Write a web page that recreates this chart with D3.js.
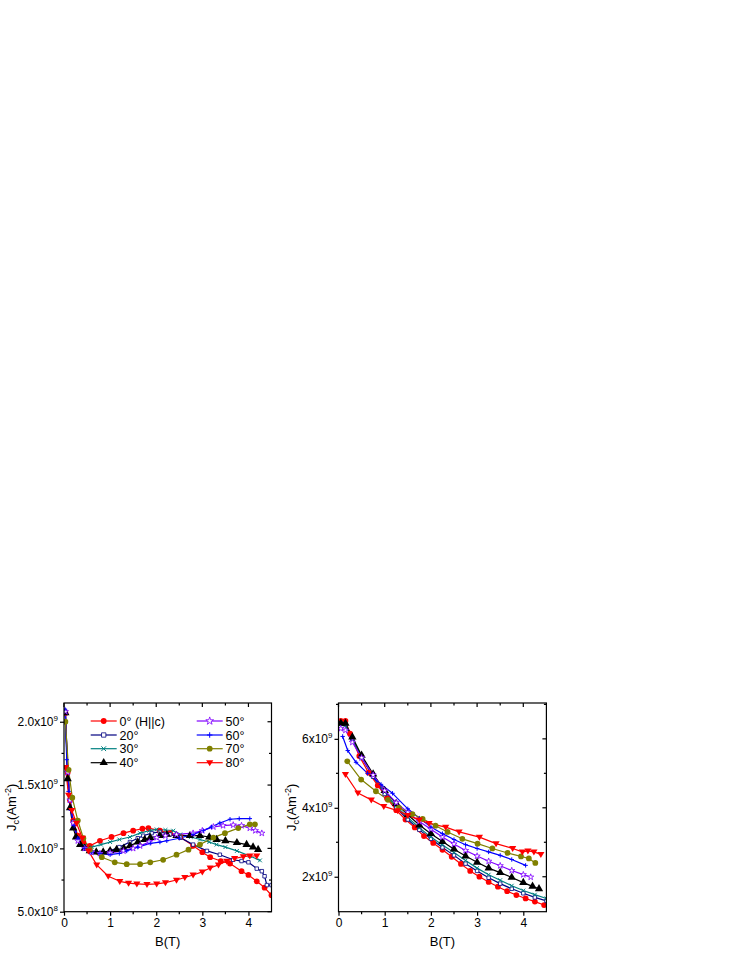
<!DOCTYPE html>
<html>
<head>
<meta charset="utf-8">
<script src="https://cdn.jsdelivr.net/npm/d3@7"></script>
<style>
html,body{margin:0;padding:0;background:#fff;}
svg{display:block;font-family:"Liberation Sans",Arial,Helvetica,sans-serif;}
</style>
</head>
<body>
<svg id="chart" width="747" height="967"></svg>
<script>
// ---------- DATA (J in units of 1e9 A m^-2, B in tesla) ----------
// Left panel
const L_0_B  = [0.03,0.08,0.13,0.2,0.3,0.42,0.56,0.78,1.03,1.29,1.5,1.7,1.83,2.08,2.3,2.52,2.8,3.0,3.17,3.4,3.6,3.85,4.0,4.18,4.35,4.5];
const L_0_J  = [2.07,1.6,1.38,1.22,1.1,1.05,1.02,1.06,1.09,1.12,1.14,1.155,1.16,1.14,1.12,1.09,1.02,0.97,0.93,0.9,0.88,0.82,0.79,0.74,0.69,0.63];
const L_20_B = [0.03,0.08,0.13,0.2,0.3,0.45,0.6,0.8,1.0,1.2,1.43,1.6,1.72,1.9,2.08,2.3,2.52,2.8,3.1,3.38,3.67,3.85,4.0,4.18,4.29,4.35,4.4,4.5];
const L_20_J = [2.08,1.62,1.4,1.21,1.08,1.0,0.97,0.96,0.98,1.01,1.05,1.08,1.1,1.12,1.13,1.11,1.085,1.03,0.98,0.95,0.91,0.9,0.89,0.84,0.82,0.78,0.71,0.71];
const L_30_B = [0.03,0.08,0.13,0.2,0.3,0.45,0.6,0.8,1.0,1.2,1.43,1.65,1.85,2.01,2.2,2.37,2.52,2.75,2.95,3.15,3.31,3.5,3.75,4.03,4.25];
const L_30_J = [2.07,1.6,1.38,1.2,1.08,1.02,1.01,1.03,1.05,1.07,1.09,1.12,1.14,1.15,1.145,1.14,1.11,1.09,1.07,1.05,1.03,1.01,0.98,0.94,0.905];
const L_40_B = [0.03,0.08,0.13,0.2,0.26,0.35,0.45,0.56,0.7,0.85,1.0,1.14,1.3,1.43,1.6,1.75,1.87,2.08,2.23,2.44,2.73,2.95,3.15,3.31,3.5,3.75,3.96,4.1,4.21];
const L_40_J = [2.07,1.55,1.32,1.16,1.09,1.03,1.0,0.98,0.97,0.97,0.98,0.99,1.0,1.02,1.05,1.07,1.085,1.1,1.11,1.1,1.1,1.1,1.09,1.07,1.06,1.045,1.03,1.01,0.99];
const L_50_B = [0.03,0.08,0.13,0.2,0.3,0.45,0.6,0.78,1.0,1.29,1.5,1.65,1.85,2.01,2.2,2.44,2.8,3.0,3.24,3.45,3.67,3.85,4.03,4.15,4.29];
const L_50_J = [2.08,1.6,1.38,1.2,1.06,1.0,0.97,0.96,0.965,0.98,1.0,1.02,1.05,1.085,1.1,1.11,1.12,1.14,1.17,1.18,1.185,1.18,1.16,1.14,1.12];
const L_60_B = [0.02,0.06,0.1,0.15,0.22,0.3,0.45,0.6,0.78,1.0,1.2,1.36,1.6,1.87,2.08,2.23,2.5,2.8,3.02,3.2,3.38,3.6,3.8,4.03];
const L_60_J = [2.1,1.7,1.45,1.3,1.18,1.08,1.0,0.97,0.96,0.95,0.96,0.98,1.01,1.04,1.05,1.06,1.08,1.11,1.14,1.17,1.2,1.23,1.235,1.235];
const L_70_B = [0.03,0.1,0.18,0.3,0.42,0.56,0.82,1.1,1.36,1.65,1.87,2.15,2.44,2.7,2.95,3.24,3.49,3.78,4.03,4.14];
const L_70_J = [2.0,1.62,1.4,1.22,1.08,0.99,0.93,0.89,0.875,0.875,0.89,0.91,0.95,0.99,1.03,1.085,1.12,1.16,1.19,1.19];
const L_80_B = [0.03,0.1,0.17,0.27,0.4,0.53,0.71,0.96,1.21,1.4,1.58,1.8,2.01,2.2,2.44,2.62,2.8,3.0,3.17,3.35,3.53,3.7,3.89,4.03,4.18];
const L_80_J = [1.64,1.42,1.3,1.2,1.08,0.98,0.87,0.78,0.74,0.725,0.72,0.715,0.72,0.73,0.75,0.77,0.79,0.815,0.845,0.87,0.9,0.92,0.935,0.94,0.94];

// Right panel
const R_0_B  = [0.05,0.15,0.25,0.45,0.65,0.85,1.05,1.25,1.45,1.65,1.85,2.05,2.25,2.45,2.65,2.85,3.05,3.25,3.45,3.65,3.85,4.05,4.25,4.45];
const R_0_J  = [6.52,6.52,6.15,5.5,5.02,4.65,4.27,3.93,3.66,3.43,3.18,2.98,2.78,2.58,2.37,2.17,2.0,1.85,1.71,1.58,1.47,1.37,1.28,1.18];
const R_20_B = [0.05,0.15,0.3,0.5,0.75,1.0,1.25,1.5,1.75,2.0,2.25,2.5,2.75,3.0,3.25,3.5,3.75,4.0,4.25,4.5];
const R_20_J = [6.45,6.42,6.0,5.45,4.9,4.4,4.0,3.66,3.36,3.1,2.85,2.62,2.38,2.17,1.97,1.8,1.65,1.52,1.4,1.3];
const R_30_B = [0.05,0.15,0.3,0.5,0.75,1.0,1.25,1.5,1.75,2.0,2.25,2.5,2.75,3.0,3.25,3.5,3.75,4.0,4.25,4.5];
const R_30_J = [6.42,6.4,6.0,5.48,4.92,4.45,4.05,3.72,3.42,3.15,2.92,2.7,2.47,2.25,2.06,1.9,1.74,1.6,1.48,1.37];
const R_40_B = [0.05,0.15,0.3,0.5,0.75,1.0,1.25,1.5,1.75,2.0,2.25,2.5,2.75,3.0,3.25,3.5,3.75,4.0,4.2,4.34];
const R_40_J = [6.45,6.45,6.05,5.52,4.98,4.5,4.12,3.8,3.5,3.25,3.02,2.8,2.6,2.42,2.25,2.12,1.98,1.83,1.72,1.65];
const R_50_B = [0.05,0.15,0.3,0.5,0.75,1.0,1.25,1.5,1.75,2.0,2.25,2.5,2.75,3.0,3.25,3.5,3.75,4.0,4.16];
const R_50_J = [6.3,6.25,5.9,5.45,4.95,4.5,4.15,3.87,3.6,3.38,3.15,2.95,2.76,2.6,2.45,2.32,2.18,2.06,1.99];
const R_60_B = [0.09,0.2,0.38,0.63,0.92,1.17,1.5,1.75,2.0,2.25,2.5,2.75,3.0,3.25,3.5,3.75,4.05];
const R_60_J = [6.07,5.66,5.32,5.0,4.68,4.42,3.97,3.7,3.44,3.25,3.08,2.93,2.82,2.72,2.62,2.5,2.33];
const R_70_B = [0.19,0.49,0.81,1.07,1.31,1.6,1.82,2.1,2.36,2.68,3.01,3.33,3.66,3.95,4.12,4.26];
const R_70_J = [5.35,4.82,4.48,4.23,4.0,3.82,3.68,3.48,3.3,3.1,2.96,2.82,2.69,2.59,2.53,2.4];
const R_80_B = [0.15,0.42,0.71,0.98,1.28,1.5,1.75,1.96,2.32,2.61,3.05,3.41,3.77,3.98,4.1,4.23,4.38];
const R_80_J = [4.97,4.43,4.23,4.04,3.92,3.78,3.65,3.55,3.44,3.3,3.15,2.96,2.82,2.72,2.75,2.72,2.65];

const seriesLabels = ["0\u00B0 (H||c)","20\u00B0","30\u00B0","40\u00B0","50\u00B0","60\u00B0","70\u00B0","80\u00B0"];

const xTicks = [0,1,2,3,4];
const xMinor = [0.5,1.5,2.5,3.5];
const leftYTicks = [0.5,1.0,1.5,2.0];
const leftYLabels = [["5.0x10","8"],["1.0x10","9"],["1.5x10","9"],["2.0x10","9"]];
const leftYMinor = [0.75,1.25,1.75];
const rightYTicks = [2,4,6];
const rightYLabels = [["2x10","9"],["4x10","9"],["6x10","9"]];
const rightYMinor = [3,5,7];

// ---------- STYLES ----------
const styles = [
  {color:"#ff0000", marker:"circle"},
  {color:"#000080", marker:"square"},
  {color:"#008080", marker:"x"},
  {color:"#000000", marker:"triangle"},
  {color:"#8000ff", marker:"star"},
  {color:"#0000ff", marker:"plus"},
  {color:"#808000", marker:"circle"},
  {color:"#ff0000", marker:"tridown"}
];

const leftData = [[L_0_B,L_0_J],[L_20_B,L_20_J],[L_30_B,L_30_J],[L_40_B,L_40_J],[L_50_B,L_50_J],[L_60_B,L_60_J],[L_70_B,L_70_J],[L_80_B,L_80_J]];
const rightData = [[R_0_B,R_0_J],[R_20_B,R_20_J],[R_30_B,R_30_J],[R_40_B,R_40_J],[R_50_B,R_50_J],[R_60_B,R_60_J],[R_70_B,R_70_J],[R_80_B,R_80_J]];

const svg = d3.select("#chart");

function markerPath(type, big){
  const k = big ? 1.25 : 1;
  switch(type){
    case "circle": return d3.symbol(d3.symbolCircle, 26)();
    case "square": return d3.symbol(d3.symbolSquare, 12*k*k)();
    case "triangle": return d3.symbol(d3.symbolTriangle, 30)();
    case "tridown": return "M-3.6,-2.4L3.6,-2.4L0,3.6Z";
    case "star": return d3.symbol(d3.symbolStar, 12*k*k)();
    case "plus": { const s=2.2*k; return `M${-s},0H${s}M0,${-s}V${s}`; }
    case "x": { const s=1.9*k; return `M${-s},${-s}L${s},${s}M${-s},${s}L${s},${-s}`; }
  }
}
function markerStyle(sel, st){
  const m = st.marker;
  if(m==="circle"||m==="triangle"||m==="tridown"){
    sel.attr("fill",st.color).attr("stroke","none");
  } else if(m==="square"||m==="star"){
    sel.attr("fill","#fff").attr("stroke",st.color).attr("stroke-width",0.8);
  } else {
    sel.attr("fill","none").attr("stroke",st.color).attr("stroke-width",1);
  }
}

function panel(cfg){
  const g = svg.append("g");
  const x = d3.scaleLinear().domain([0,4.5]).range([cfg.x0, cfg.x1]);
  const y = d3.scaleLinear().domain(cfg.yDomain).range([cfg.y1, cfg.y0]);
  const id = "clip"+cfg.name;
  svg.append("clipPath").attr("id",id).append("rect")
    .attr("x",cfg.x0).attr("y",cfg.y0).attr("width",cfg.x1-cfg.x0).attr("height",cfg.y1-cfg.y0);

  const plot = g.append("g").attr("clip-path","url(#"+id+")");
  const line = d3.line().x(d=>x(d[0])).y(d=>y(d[1]));
  cfg.data.forEach((s,i)=>{
    const pts = s[0].map((b,k)=>[b,s[1][k]]);
    const st = styles[i];
    plot.append("path").attr("d",line(pts)).attr("fill","none")
      .attr("stroke",st.color).attr("stroke-width",1.2).attr("stroke-linejoin","round");
  });
  cfg.data.forEach((s,i)=>{
    const pts = s[0].map((b,k)=>[b,s[1][k]]);
    const st = styles[i];
    const mk = plot.append("g").selectAll("path").data(pts).join("path")
      .attr("d",markerPath(st.marker,false))
      .attr("transform",d=>`translate(${x(d[0])},${y(d[1])})`);
    markerStyle(mk, st);
  });

  // frame
  g.append("rect").attr("x",cfg.x0).attr("y",cfg.y0).attr("width",cfg.x1-cfg.x0).attr("height",cfg.y1-cfg.y0)
    .attr("fill","none").attr("stroke","#000").attr("stroke-width",1.2);

  // bottom axis (outward ticks)
  const bx = g.append("g").attr("transform",`translate(0,${cfg.y1})`)
    .call(d3.axisBottom(x).tickValues(xTicks).tickSize(4).tickPadding(3).tickFormat(d3.format("d")));
  bx.select(".domain").remove();
  bx.selectAll("text").attr("font-size",12).attr("font-family","Liberation Sans, Arial, sans-serif").attr("fill","#000");
  bx.selectAll("line").attr("stroke-width",1.2);
  xMinor.forEach(v=>{
    g.append("line").attr("x1",x(v)).attr("x2",x(v)).attr("y1",cfg.y1).attr("y2",cfg.y1+2.5).attr("stroke","#000").attr("stroke-width",1.2);
  });
  // top mirror (inward ticks)
  xTicks.concat(xMinor).forEach(v=>{
    const len = xTicks.includes(v)?4:2.5;
    g.append("line").attr("x1",x(v)).attr("x2",x(v)).attr("y1",cfg.y0).attr("y2",cfg.y0+len).attr("stroke","#000").attr("stroke-width",1.2);
  });

  // left axis (outward ticks)
  const ly = g.append("g").attr("transform",`translate(${cfg.x0},0)`)
    .call(d3.axisLeft(y).tickValues(cfg.yTicks).tickSize(4).tickPadding(3).tickFormat(""));
  ly.select(".domain").remove();
  ly.selectAll("line").attr("stroke-width",1.2);
  cfg.yTicks.forEach((v,k)=>{
    const t = g.append("text").attr("x",cfg.x0-6).attr("y",y(v)+4.2).attr("text-anchor","end")
      .attr("font-size",12);
    t.append("tspan").text(cfg.yLabels[k][0]);
    t.append("tspan").attr("font-size",8).attr("dy",-5).text(cfg.yLabels[k][1]);
  });
  cfg.yMinor.forEach(v=>{
    if(y(v) < cfg.y0-0.5) return;
    g.append("line").attr("x1",cfg.x0-2.5).attr("x2",cfg.x0).attr("y1",y(v)).attr("y2",y(v)).attr("stroke","#000").attr("stroke-width",1.2);
  });
  // right mirror (inward ticks)
  cfg.yTicks.concat(cfg.yMinor).forEach(v=>{
    if(y(v) < cfg.y0-0.5) return;
    const len = cfg.yTicks.includes(v)?4:2.5;
    g.append("line").attr("x1",cfg.x1-len).attr("x2",cfg.x1).attr("y1",y(v)).attr("y2",y(v)).attr("stroke","#000").attr("stroke-width",1.2);
  });

  // axis titles
  g.append("text").attr("x",(cfg.x0+cfg.x1)/2).attr("y",cfg.y1+34).attr("text-anchor","middle")
    .attr("font-size",13).text("B(T)");
  const yt = g.append("text").attr("transform",`translate(${cfg.yTitleX},${(cfg.y0+cfg.y1)/2}) rotate(-90)`)
    .attr("text-anchor","middle").attr("font-size",13);
  yt.append("tspan").text("J");
  yt.append("tspan").attr("font-size",9).attr("dy",3).text("c");
  yt.append("tspan").attr("dy",-3).text("(Am");
  yt.append("tspan").attr("font-size",9).attr("dy",-5).text("-2");
  yt.append("tspan").attr("dy",5).text(")");
  return g;
}

panel({name:"L", x0:64, x1:271.5, y0:703, y1:911.7, yDomain:[0.5,2.148], data:leftData,
  yTicks:leftYTicks, yLabels:leftYLabels, yMinor:leftYMinor, yTitleX:16});
panel({name:"R", x0:338.5, x1:546.4, y0:703, y1:911.7, yDomain:[0.986,7.04], data:rightData,
  yTicks:rightYTicks, yLabels:rightYLabels, yMinor:rightYMinor, yTitleX:296});

// legend
const leg = svg.append("g");
const legCols = [{lx0:90.7,lx1:116.7,tx:119.5},{lx0:196.7,lx1:222.7,tx:225.5}];
const legRows = [721,735,748.7,762.7];
seriesLabels.forEach((lab,i)=>{
  const c = legCols[Math.floor(i/4)], yy = legRows[i%4], st = styles[i];
  leg.append("line").attr("x1",c.lx0).attr("x2",c.lx1).attr("y1",yy).attr("y2",yy)
    .attr("stroke",st.color).attr("stroke-width",1.2);
  const mk = leg.append("path").attr("d",markerPath(st.marker,true))
    .attr("transform",`translate(${(c.lx0+c.lx1)/2},${yy})`);
  markerStyle(mk, st);
  leg.append("text").attr("x",c.tx).attr("y",yy+4.5).attr("font-size",12.5).text(lab);
});
</script>
</body>
</html>
